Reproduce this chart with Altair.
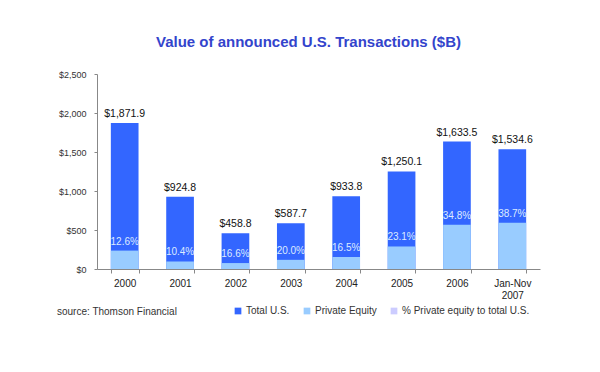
import altair as alt
import pandas as pd

years = ["2000", "2001", "2002", "2003", "2004", "2005", "2006", "Jan-Nov 2007"]
total_us = [1871.9, 924.8, 458.8, 587.7, 933.8, 1250.1, 1633.5, 1534.6]
pe_pct = [12.6, 10.4, 16.6, 20.0, 16.5, 23.1, 34.8, 38.7]
series_names = ["Total U.S.", "Private Equity", "% Private equity to total U.S."]
series_colors = ["#3366FF", "#99CCFF", "#CCCCFF"]
y_ticks = [0, 500, 1000, 1500, 2000, 2500]

df = pd.DataFrame({"year": years, "total": total_us, "pct": pe_pct})
df["pe"] = df["total"] * df["pct"] / 100.0
df["s_total"] = series_names[0]
df["s_pe"] = series_names[1]

FONT = "Liberation Sans"

color_scale = alt.Scale(domain=series_names, range=series_colors)
x_enc = alt.X(
    "year:N",
    sort=years,
    scale=alt.Scale(paddingInner=0.5, paddingOuter=0.25),
    axis=alt.Axis(
        title=None,
        labelAngle=0,
        tickBand="extent",
        tickSize=4,
        tickColor="#888888",
        domainColor="#888888",
        labelFontSize=10,
        labelColor="#222222",
        labelPadding=5,
        labelFont=FONT,
        labelExpr="datum.value == 'Jan-Nov 2007' ? ['Jan-Nov', '2007'] : datum.value",
    ),
)
y_scale = alt.Scale(domain=[0, 2500])
y_axis = alt.Axis(
    title=None,
    values=y_ticks,
    format="$,.0f",
    grid=False,
    tickSize=3,
    tickColor="#888888",
    domainColor="#888888",
    labelFontSize=9,
    labelColor="#333333",
    labelPadding=8,
    labelFont=FONT,
    labelOverlap=False,
)

base = alt.Chart(df)

bars_total = base.mark_bar().encode(
    x=x_enc,
    y=alt.Y("total:Q", scale=y_scale, axis=y_axis),
    color=alt.Color(
        "s_total:N",
        scale=color_scale,
        legend=alt.Legend(
            title=None,
            orient="none",
            legendX=136,
            legendY=232,
            direction="horizontal",
            symbolType="square",
            symbolSize=45,
            symbolStrokeWidth=0,
            labelFontSize=10,
            labelColor="#333333",
            labelFont=FONT,
            columnPadding=12,
            labelOffset=3,
        ),
    ),
)
bars_pe = base.mark_bar().encode(
    x=x_enc,
    y=alt.Y("pe:Q", scale=y_scale, axis=y_axis),
    color=alt.Color("s_pe:N", scale=color_scale),
)
lbl_total = base.mark_text(
    baseline="bottom", dy=-4, fontSize=10.5, color="#111111", font=FONT
).encode(
    x=x_enc,
    y=alt.Y("total:Q", scale=y_scale, axis=y_axis),
    text=alt.Text("total:Q", format="$,.1f"),
)
lbl_pct = base.transform_calculate(
    pct_label="format(datum.pct, '.1f') + '%'"
).mark_text(
    baseline="bottom", dy=-4, fontSize=10, color="#DDEBFF", font=FONT
).encode(
    x=x_enc,
    y=alt.Y("pe:Q", scale=y_scale, axis=y_axis),
    text="pct_label:N",
)
source = alt.Chart(pd.DataFrame({"t": ["source: Thomson Financial"]})).mark_text(
    align="left", baseline="middle", fontSize=10, color="#333333", font=FONT
).encode(x=alt.value(-40), y=alt.value(238), text="t:N")

chart = (
    alt.layer(bars_total, bars_pe, lbl_total, lbl_pct, source)
    .properties(
        width=443,
        height=195,
        background="white",
        autosize=alt.AutoSizeParams(type="none"),
        padding={"left": 89, "top": 66, "right": 52, "bottom": 95},
        title=alt.TitleParams(
            "Value of announced U.S. Transactions ($B)",
            fontSize=15,
            fontWeight="bold",
            color="#3344CC",
            font=FONT,
            anchor="middle",
            offset=20,
            dx=-10,
        ),
    )
    .configure_view(strokeWidth=0, stroke="transparent")
)

chart.save("out.html", embed_options={"renderer": "svg", "actions": False})
